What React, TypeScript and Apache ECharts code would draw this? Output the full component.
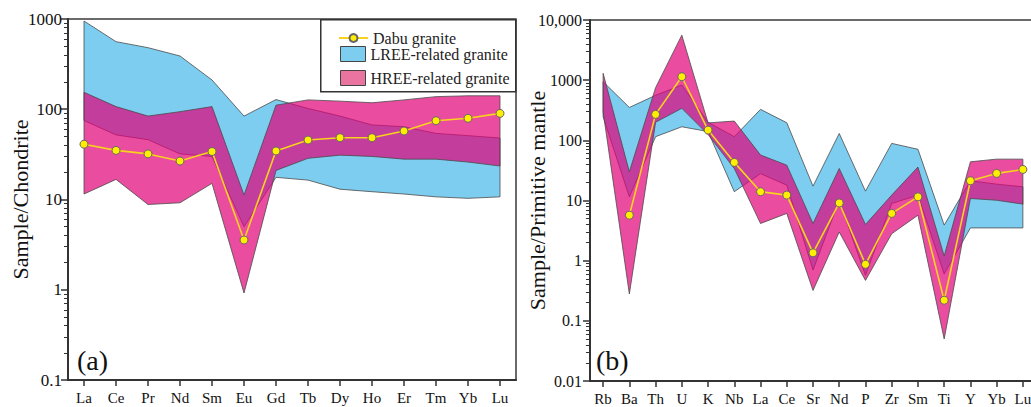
import React, { useEffect, useRef } from 'react';
import * as echarts from 'echarts';

// ---------- Data (a): chondrite-normalised REE ----------
const REE = ['La', 'Ce', 'Pr', 'Nd', 'Sm', 'Eu', 'Gd', 'Tb', 'Dy', 'Ho', 'Er', 'Tm', 'Yb', 'Lu'];
const REE_DABU = [41, 35, 32, 26.7, 34, 3.56, 34.5, 45.6, 48.4, 48.4, 57.4, 74.6, 79.4, 90];
const REE_LREE_LOW = [75, 52, 46, 32, 30, 5, 17.6, 16.4, 13, 12.2, 11.5, 10.7, 10.3, 10.7];
const REE_LREE_HIGH = [950, 561, 481, 389, 211, 84, 128, 102, 84, 67, 64, 54, 51, 48];
const REE_HREE_LOW = [11.5, 16.7, 8.8, 9.2, 15.1, 0.92, 21, 28.6, 31, 30, 28, 28, 26, 23.5];
const REE_HREE_HIGH = [154, 107, 84, 94, 107, 11.2, 111, 127, 123, 118, 127, 138, 141, 141];

// ---------- Data (b): primitive-mantle-normalised trace elements ----------
const TE = ['Rb', 'Ba', 'Th', 'U', 'K', 'Nb', 'La', 'Ce', 'Sr', 'Nd', 'P', 'Zr', 'Sm', 'Ti', 'Y', 'Yb', 'Lu'];
const TE_DABU = [null, 5.7, 270, 1140, 148, 43, 14, 12.3, 1.35, 9.1, 0.87, 6.1, 11.5, 0.22, 21.3, 28.2, 32.8];
const TE_LREE_LOW = [247, 11.5, 115, 168, 140, 14, 28, 18, 0.7, 10, 0.57, 8.9, 12.3, 0.6, 3.5, 3.5, 3.5];
const TE_LREE_HIGH = [942, 352, 560, 830, 200, 115, 327, 196, 17.3, 130, 14.3, 89, 71, 3.9, 21.3, 18.7, 16.9];
const TE_HREE_LOW = [300, 0.28, 200, 340, 125, 34, 4.15, 6.1, 0.32, 3.0, 0.47, 2.8, 5.7, 0.05, 10.8, 10.1, 8.7];
const TE_HREE_HIGH = [1300, 30, 750, 5600, 195, 209, 57, 38.7, 4.15, 34, 4.0, 12.3, 36, 1.2, 44, 48.7, 48.7];

const SERIES_LINE = 'Dabu granite';
const SERIES_LREE = 'LREE-related granite';
const SERIES_HREE = 'HREE-related granite';

const FONT = 'Liberation Serif';
const LREE_FILL = '#7ccdf0';
const HREE_FILL = 'rgba(225,0,119,0.7)';
const BAND_STROKE = '#4a4a4a';

function bandSeries(name: string, idx: number, low: number[], high: number[], fill: string, z: number) {
  return {
    type: 'custom',
    name,
    xAxisIndex: idx,
    yAxisIndex: idx,
    z,
    silent: true,
    itemStyle: { color: fill },
    encode: { x: 0, y: [1, 2] },
    data: low.map((v, i) => [i, v, high[i]]),
    renderItem: (params: any, api: any) => {
      if (params.dataIndex !== 0) return null;
      const pts: number[][] = [];
      for (let i = 0; i < high.length; i++) pts.push(api.coord([i, high[i]]));
      for (let i = low.length - 1; i >= 0; i--) pts.push(api.coord([i, low[i]]));
      return {
        type: 'polygon',
        shape: { points: pts },
        style: { fill, stroke: BAND_STROKE, lineWidth: 0.8 },
      };
    },
  };
}

function lineSeries(idx: number, data: (number | null)[]) {
  return {
    type: 'line',
    name: SERIES_LINE,
    xAxisIndex: idx,
    yAxisIndex: idx,
    z: 5,
    data,
    symbol: 'circle',
    symbolSize: 8,
    showSymbol: true,
    connectNulls: false,
    lineStyle: { color: '#f7d31e', width: 1.6 },
    itemStyle: { color: '#ffee00', borderColor: '#666', borderWidth: 1 },
  };
}

const fmt = (v: number) => {
  const n = Number(Number(v).toPrecision(6));
  return n >= 10000 ? n.toLocaleString('en-US') : String(n);
};

function xAxis(idx: number, data: string[]) {
  return {
    type: 'category',
    gridIndex: idx,
    data,
    boundaryGap: true,
    axisLine: { show: true, onZero: false, lineStyle: { color: '#333', width: 2 } },
    axisTick: { show: true, alignWithLabel: true, length: 6, lineStyle: { color: '#333', width: 1.5 } },
    axisLabel: { interval: 0, color: '#111', fontSize: 15, fontFamily: FONT, margin: 10 },
    splitLine: { show: false },
  };
}

function yAxis(idx: number, min: number, max: number, name: string, gap: number, labelSize: number, margin: number) {
  return {
    type: 'log',
    logBase: 10,
    gridIndex: idx,
    min,
    max,
    name,
    nameLocation: 'middle',
    nameRotate: 90,
    nameGap: gap,
    nameMoveOverlap: false,
    nameTextStyle: { fontSize: 22, color: '#111', fontFamily: FONT },
    axisLine: { show: true, lineStyle: { color: '#333', width: 2 } },
    axisTick: { show: true, length: 7, lineStyle: { color: '#333', width: 1.5 } },
    minorTick: { show: true, splitNumber: 9, length: 4, lineStyle: { color: '#333', width: 1 } },
    axisLabel: { fontSize: labelSize, color: '#111', fontFamily: FONT, margin, formatter: fmt },
    splitLine: { show: false },
    minorSplitLine: { show: false },
  };
}

const legendText = { fontFamily: FONT, fontSize: 16, color: '#222' };

export default function App() {
  const ref = useRef<HTMLDivElement>(null);

  useEffect(() => {
    if (!ref.current) return;
    const chart = echarts.init(ref.current, undefined, { renderer: 'svg' });
    const option: any = {
      animation: false,
      backgroundColor: '#fff',
      textStyle: { fontFamily: FONT },
      grid: [
        { left: 68, top: 19, width: 448, height: 361, show: true, borderColor: '#3a3a3a', borderWidth: 1.5 },
        { left: 590, top: 20, width: 446, height: 361, show: true, borderColor: '#3a3a3a', borderWidth: 1.5 },
      ],
      xAxis: [xAxis(0, REE), xAxis(1, TE)],
      yAxis: [
        yAxis(0, 0.1, 1000, 'Sample/Chondrite', 37, 17, 6),
        yAxis(1, 0.01, 10000, 'Sample/Primitive mantle', 42, 16, 8),
      ],
      legend: [
        {
          left: 338,
          top: 30,
          orient: 'vertical',
          itemWidth: 29,
          itemHeight: 10,
          padding: 0,
          selectedMode: false,
          textStyle: legendText,
          data: [{ name: SERIES_LINE }],
        },
        {
          left: 340,
          top: 46,
          orient: 'vertical',
          itemGap: 8,
          itemWidth: 25,
          itemHeight: 15,
          padding: 0,
          selectedMode: false,
          textStyle: legendText,
          data: [
            { name: SERIES_LREE, icon: 'rect', itemStyle: { color: LREE_FILL, borderColor: '#444', borderWidth: 1 } },
            { name: SERIES_HREE, icon: 'rect', itemStyle: { color: '#e8749f', borderColor: '#444', borderWidth: 1 } },
          ],
        },
      ],
      graphic: [
        {
          type: 'rect',
          left: 320,
          top: 19,
          z: 3,
          shape: { width: 195, height: 72 },
          style: { fill: '#fff', stroke: '#333', lineWidth: 1.5 },
        },
        { type: 'text', left: 77, top: 346, style: { text: '(a)', fontSize: 28, fontFamily: FONT, fill: '#111' } },
        { type: 'text', left: 596, top: 346, style: { text: '(b)', fontSize: 28, fontFamily: FONT, fill: '#111' } },
      ],
      series: [
        bandSeries(SERIES_LREE, 0, REE_LREE_LOW, REE_LREE_HIGH, LREE_FILL, 1),
        bandSeries(SERIES_HREE, 0, REE_HREE_LOW, REE_HREE_HIGH, HREE_FILL, 2),
        lineSeries(0, REE_DABU),
        bandSeries(SERIES_LREE, 1, TE_LREE_LOW, TE_LREE_HIGH, LREE_FILL, 1),
        bandSeries(SERIES_HREE, 1, TE_HREE_LOW, TE_HREE_HIGH, HREE_FILL, 2),
        lineSeries(1, TE_DABU),
      ],
    };
    chart.setOption(option);
    return () => chart.dispose();
  }, []);

  return (
    <div style={{ position: 'absolute', left: 0, top: 0, width: 1031, height: 407, overflow: 'hidden', background: '#fff' }}>
      <div ref={ref} style={{ width: 1040, height: 407 }} />
    </div>
  );
}
